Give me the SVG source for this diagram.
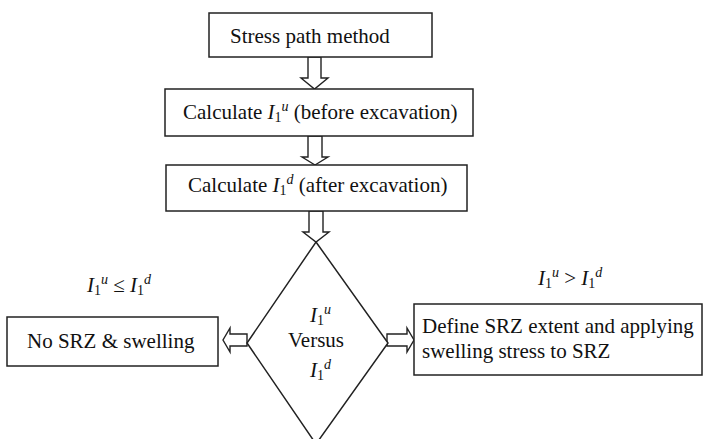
<svg xmlns="http://www.w3.org/2000/svg" width="703" height="439" viewBox="0 0 703 439">
<style>
.box{fill:#fff;stroke:#222;stroke-width:1.5}
.arr{fill:#fff;stroke:#222;stroke-width:1.4;stroke-linejoin:miter}
svg text.t{font-family:'Liberation Serif','Times New Roman',serif;font-size:21px;fill:#111}
svg .i{font-style:italic}
svg .s{font-size:14px}
</style>
<rect width="703" height="439" fill="#fff"/>
<g id="connectors">
<polygon class="arr" points="308,57 321,57 321,78 328,78 314.5,89 301,78 308,78"/>
<polygon class="arr" points="308,136 322,136 322,157 328,157 315,165 302,157 308,157"/>
<polygon class="arr" points="309,211 323,211 323,232 329,232 316,242 303,232 309,232"/>
<polygon class="arr" points="247,334 230,334 230,328 223,340 230,352 230,346 247,346"/>
<polygon class="arr" points="387,334 407,334 407,328 414,340 407,352 407,346 387,346"/>
</g>
<g id="n1">
<rect class="box" x="209" y="13" width="223" height="44"/>
<text class="t" font-family="Liberation Serif" font-size="21" x="230" y="43">Stress path method</text>
</g>
<g id="n2">
<rect class="box" x="165" y="89" width="308" height="47"/>
<text class="t" font-family="Liberation Serif" font-size="21" x="183" y="119">Calculate <tspan class="i">I</tspan><tspan class="s" dy="3">1</tspan><tspan class="s i" dy="-11">u</tspan><tspan dy="8"> (before excavation)</tspan></text>
</g>
<g id="n3">
<rect class="box" x="166" y="165" width="301" height="46"/>
<text class="t" font-family="Liberation Serif" font-size="21" x="188" y="192">Calculate <tspan class="i">I</tspan><tspan class="s" dy="3">1</tspan><tspan class="s i" dy="-11">d</tspan><tspan dy="8"> (after excavation)</tspan></text>
</g>
<g id="n4">
<polygon class="box" points="316,242 388,343 316,444 247,343"/>
<text class="t" font-family="Liberation Serif" font-size="21" x="310" y="322"><tspan class="i">I</tspan><tspan class="s" dy="3">1</tspan><tspan class="s i" dy="-11">u</tspan></text>
<text class="t" font-family="Liberation Serif" font-size="21" x="316" y="347" text-anchor="middle">Versus</text>
<text class="t" font-family="Liberation Serif" font-size="21" x="310" y="377"><tspan class="i">I</tspan><tspan class="s" dy="3">1</tspan><tspan class="s i" dy="-11">d</tspan></text>
</g>
<g id="n5">
<rect class="box" x="7" y="317" width="211" height="49"/>
<text class="t" font-family="Liberation Serif" font-size="21" x="27" y="348">No SRZ &amp; swelling</text>
</g>
<g id="n6">
<rect class="box" x="414" y="304" width="288" height="71"/>
<text class="t" font-family="Liberation Serif" font-size="21" x="422" y="333">Define SRZ extent and applying</text>
<text class="t" font-family="Liberation Serif" font-size="21" x="422" y="358">swelling stress to SRZ</text>
</g>
<g id="lbl-left">
<text class="t" font-family="Liberation Serif" font-size="21" x="87" y="292"><tspan class="i">I</tspan><tspan class="s" dy="3">1</tspan><tspan class="s i" dy="-11">u</tspan><tspan dy="8"> ≤ </tspan><tspan class="i">I</tspan><tspan class="s" dy="3">1</tspan><tspan class="s i" dy="-11">d</tspan></text>
</g>
<g id="lbl-right">
<text class="t" font-family="Liberation Serif" font-size="21" x="538" y="285"><tspan class="i">I</tspan><tspan class="s" dy="3">1</tspan><tspan class="s i" dy="-11">u</tspan><tspan dy="8"> &gt; </tspan><tspan class="i">I</tspan><tspan class="s" dy="3">1</tspan><tspan class="s i" dy="-11">d</tspan></text>
</g>
</svg>
